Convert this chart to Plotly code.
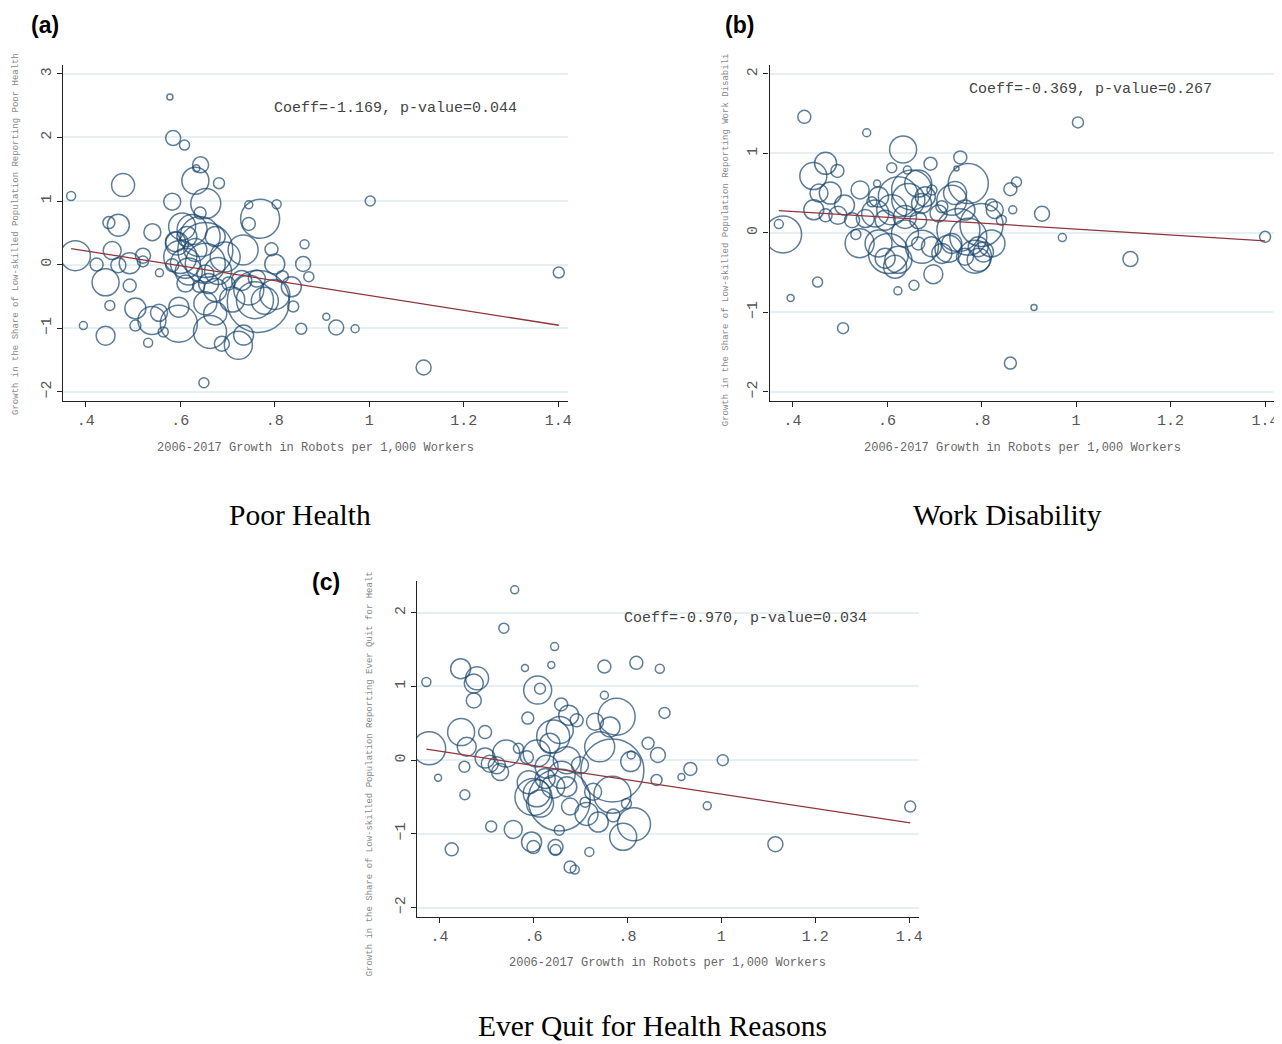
import plotly.graph_objects as go

# the page body keeps its default 8px margin, so the figure is drawn
# 8px smaller and every pixel placement below is shifted by that much
OFF = 8
W, H = 1282 - OFF, 1044 - OFF

NAVY = "#1a476f"
MAROON = "#90353b"
GRID = "#e6eff1"
AXIS = "#222222"
TICK_TXT = "#555555"
MONO = "Liberation Mono, Courier New, monospace"
SERIF = "Liberation Serif, Times New Roman, serif"
SANS = "Liberation Sans, Arial, sans-serif"

# ---- panel (a): Poor Health ----
a_x = [0.369, 0.378, 0.395, 0.423, 0.442, 0.442, 0.449, 0.451, 0.456, 0.469,
       0.469, 0.479, 0.493, 0.493, 0.505, 0.505, 0.521, 0.521, 0.532, 0.540,
       0.541, 0.555, 0.556, 0.564, 0.578, 0.583, 0.585, 0.597, 0.597, 0.604,
       0.609, 0.611, 0.614, 0.590, 0.632, 0.634, 0.642, 0.642, 0.643, 0.653,
       0.653, 0.654, 0.650, 0.653, 0.660, 0.663, 0.674, 0.674, 0.682, 0.688,
       0.723, 0.733, 0.734, 0.745, 0.745, 0.765, 0.758, 0.769, 0.793, 0.800,
       0.804, 0.816, 0.839, 0.856, 0.860, 0.863, 0.872, 0.909, 0.930, 0.970,
       1.002, 1.115, 1.401, 0.618, 0.632, 0.593, 0.695, 0.653, 0.674, 0.702,
       0.730, 0.762, 0.611, 0.583, 0.639, 0.779, 0.800, 0.835, 0.600, 0.625,
       0.680, 0.710, 0.745]
a_y = [1.08, 0.14, -0.96, 0.00, -0.28, -1.12, 0.66, -0.645, 0.22, 0.62,
       -0.01, 1.25, 0.02, -0.33, -0.69, -0.96, 0.14, 0.05, -1.23, -0.88,
       0.51, -0.76, -0.13, -1.06, 2.635, 0.99, 1.99, -0.93, -0.67, 0.60,
       1.88, 0.02, 0.44, 0.36, 1.32, 1.515, 0.81, 0.44, 1.57, 0.23,
       0.02, 0.96, -1.86, -0.61, -0.30, -1.06, 0.44, -0.77, 1.28, -1.245,
       -1.27, 0.23, -1.11, 0.94, 0.64, -0.58, -0.56, 0.72, 0.24, 0.01,
       0.95, -0.19, -0.66, -1.01, 0.01, 0.32, -0.19, -0.82, -0.99, -1.01,
       1.00, -1.62, -0.125, -0.11, 0.23, 0.33, 0.12, -0.14, -0.40, -0.30,
       -0.25, -0.22, -0.30, -0.01, -0.34, -0.57, -0.47, -0.35, 0.12, 0.55,
       -0.10, -0.55, -0.40]
a_w = [9, 30, 8, 13, 27, 19, 12, 10, 18, 22,
       15, 23, 21, 13, 21, 11, 15, 11, 9, 28,
       17, 17, 8, 10, 6, 17, 15, 37, 20, 27,
       10, 30, 20, 20, 27, 7, 12, 40, 16, 55,
       40, 30, 10, 23, 20, 33, 20, 23, 11, 15,
       28, 30, 20, 8, 13, 62, 37, 39, 13, 20,
       9, 12, 11, 11, 15, 9, 10, 7, 15, 8,
       10, 15, 11, 27, 23, 23, 30, 17, 23, 13,
       20, 17, 17, 13, 12, 27, 30, 20, 33, 30,
       27, 25, 30]

# ---- panel (b): Work Disability ----
b_x = [0.371, 0.380, 0.396, 0.425, 0.444, 0.445, 0.453, 0.456, 0.470, 0.470,
       0.480, 0.495, 0.496, 0.507, 0.510, 0.526, 0.534, 0.542, 0.543, 0.554,
       0.557, 0.568, 0.579, 0.582, 0.610, 0.610, 0.596, 0.603, 0.624, 0.624,
       0.596, 0.623, 0.634, 0.643, 0.638, 0.652, 0.666, 0.673, 0.666, 0.674,
       0.694, 0.695, 0.657, 0.692, 0.698, 0.716, 0.730, 0.737, 0.744, 0.751,
       0.747, 0.765, 0.755, 0.772, 0.786, 0.794, 0.804, 0.800, 0.821, 0.842,
       0.861, 0.866, 0.861, 0.874, 0.911, 0.928, 0.971, 1.004, 1.115, 1.400,
       0.575, 0.645, 0.681, 0.709, 0.765, 0.772, 0.828, 0.821, 0.793, 0.638,
       0.582, 0.617, 0.666, 0.716, 0.737]
b_y = [0.11, -0.02, -0.82, 1.46, 0.715, 0.29, -0.62, 0.50, 0.875, 0.22,
       0.50, 0.78, 0.22, -1.20, 0.35, 0.16, -0.02, -0.13, 0.54, 0.18,
       1.26, 0.39, 0.62, 0.45, 0.82, 0.29, 0.16, -0.26, 0.455, -0.34,
       -0.32, -0.73, 1.05, 0.79, 0.20, 0.54, 0.62, 0.37, 0.16, -0.175,
       -0.175, 0.54, -0.66, 0.87, -0.52, 0.33, -0.20, 0.41, 0.50, 0.035,
       0.81, -0.30, 0.95, 0.62, -0.30, -0.34, -0.24, 0.10, 0.35, 0.16,
       0.55, 0.29, -1.64, 0.64, -0.94, 0.24, -0.06, 1.39, -0.33, -0.05,
       0.245, 0.413, 0.455, 0.245, 0.287, -0.05, 0.287, -0.133, -0.175, -0.007,
       -0.133, -0.427, -0.133, -0.259, -0.133]
b_w = [9, 37, 7, 13, 27, 20, 10, 18, 22, 13,
       22, 13, 18, 11, 20, 15, 10, 29, 18, 18,
       8, 10, 7, 20, 10, 30, 20, 40, 40, 27,
       20, 8, 27, 8, 23, 40, 27, 20, 17, 33,
       20, 10, 10, 13, 19, 12, 27, 30, 23, 43,
       5, 17, 13, 40, 33, 23, 20, 43, 12, 10,
       13, 8, 12, 10, 6, 15, 8, 11, 15, 11,
       27, 33, 20, 17, 20, 37, 17, 27, 20, 27,
       27, 23, 13, 20, 20]

# ---- panel (c): Ever Quit for Health Reasons ----
c_x = [0.372, 0.378, 0.397, 0.426, 0.445, 0.446, 0.453, 0.454, 0.458, 0.473,
       0.480, 0.473, 0.497, 0.497, 0.510, 0.522, 0.529, 0.507, 0.537, 0.542,
       0.557, 0.568, 0.586, 0.560, 0.582, 0.588, 0.596, 0.600, 0.600, 0.607,
       0.614, 0.607, 0.609, 0.614, 0.628, 0.635, 0.638, 0.642, 0.656, 0.642,
       0.645, 0.647, 0.647, 0.655, 0.655, 0.659, 0.671, 0.671, 0.678, 0.675,
       0.678, 0.688, 0.692, 0.699, 0.710, 0.713, 0.719, 0.731, 0.738, 0.741,
       0.751, 0.751, 0.763, 0.768, 0.768, 0.777, 0.770, 0.798, 0.791, 0.814,
       0.819, 0.808, 0.807, 0.844, 0.862, 0.865, 0.869, 0.879, 0.915, 0.934,
       0.970, 1.003, 1.115, 1.402, 0.727, 0.590, 0.625, 0.660]
c_y = [1.06, 0.16, -0.24, -1.21, 1.24, 0.38, -0.09, -0.47, 0.18, 1.04,
       1.11, 0.81, 0.38, 0.03, -0.90, -0.07, -0.16, -0.05, 1.79, 0.09,
       -0.94, 0.16, 0.04, 2.31, 1.25, 0.57, -1.11, -1.18, -0.50, -0.45,
       -0.59, 0.09, 0.95, 0.97, -0.09, 0.23, 1.29, 0.32, 0.41, -0.36,
       1.54, -1.18, -1.22, -0.95, -0.54, 0.755, 0.00, -0.36, -0.63, 0.61,
       -1.45, -1.485, 0.54, -0.07, -0.57, -0.73, -1.245, 0.52, -0.84, 0.18,
       1.27, 0.88, 0.45, -0.14, -0.47, 0.59, -0.75, -0.59, -1.04, -0.87,
       1.32, 0.07, -0.02, 0.23, -0.27, 0.07, 1.24, 0.64, -0.23, -0.12,
       -0.62, 0.00, -1.14, -0.63, -0.43, -0.30, -0.25, -0.20]
c_w = [9, 33, 7, 13, 20, 27, 11, 10, 19, 19,
       23, 15, 13, 20, 11, 17, 17, 17, 10, 27,
       18, 10, 13, 8, 7, 12, 20, 13, 37, 27,
       27, 27, 28, 11, 23, 20, 7, 33, 27, 23,
       8, 15, 11, 10, 62, 13, 27, 20, 17, 20,
       12, 9, 13, 17, 10, 23, 9, 17, 20, 30,
       13, 8, 20, 63, 37, 37, 13, 10, 27, 33,
       13, 8, 20, 12, 11, 15, 9, 11, 7, 13,
       8, 11, 15, 11, 17, 23, 20, 27]

slopes = [-1.169, -0.369, -0.970]
intercepts = [0.6825, 0.4165, 0.509]
p_values = [0.044, 0.267, 0.034]
titles = ["Poor Health", "Work Disability", "Ever Quit for Health Reasons"]
panel_tags = ["(a)", "(b)", "(c)"]
ytitles = [
    "Growth in the Share of Low-skilled Population Reporting Poor Health",
    "Growth in the Share of Low-skilled Population Reporting Work Disabili",
    "Growth in the Share of Low-skilled Population Reporting Ever Quit for Healt",
]
x_title = "2006-2017 Growth in Robots per 1,000 Workers"
x_ticks = [0.4, 0.6, 0.8, 1.0, 1.2, 1.4]
x_ticktext = [".4", ".6", ".8", "1", "1.2", "1.4"]
y_ticks = [[-2, -1, 0, 1, 2, 3], [-2, -1, 0, 1, 2], [-2, -1, 0, 1, 2]]
y_ranges = [[-2.147, 3.14], [-2.117, 2.113], [-2.128, 2.43]]
x_range = [0.3515, 1.421]

# plot boxes in page pixels: left, right, top, bottom
boxes = [(63, 570, 65, 401), (772, 1279, 65, 401), (418, 922, 581, 917)]
# text placements in page pixels
tag_pos = [(45, 25), (742, 25), (327, 582)]
title_pos = [(301, 515), (1011, 515), (655, 1026)]
coeff_pos = [(273, 108), (970, 90), (624, 618)]
xtitle_pos = [(316, 448), (1026, 448), (670, 963)]
ytitle_pos = [(16, 417), (728, 428), (371, 978)]

series = [(a_x, a_y, a_w), (b_x, b_y, b_w), (c_x, c_y, c_w)]


def fx(px):
    return (px - OFF) / W


def fy(py):
    return 1 - (py - OFF) / H


def note(text, pos, font, **kw):
    d = dict(text=text, x=fx(pos[0]), y=fy(pos[1]), xref="paper", yref="paper",
             showarrow=False, xanchor="center", yanchor="middle", font=font)
    d.update(kw)
    return d


fig = go.Figure()
annotations = []

for i, (xs, ys, ws) in enumerate(series):
    n = "" if i == 0 else str(i + 1)
    xa, ya = "x" + n, "y" + n

    fig.add_trace(go.Scatter(
        x=xs, y=ys, xaxis=xa, yaxis=ya,
        mode="markers",
        marker=dict(size=ws, color="rgba(0,0,0,0)",
                    line=dict(color=NAVY, width=1.5)),
        showlegend=False, hoverinfo="skip",
    ))
    x0, x1 = min(xs), max(xs)
    fig.add_trace(go.Scatter(
        x=[x0, x1],
        y=[intercepts[i] + slopes[i] * x0, intercepts[i] + slopes[i] * x1],
        xaxis=xa, yaxis=ya, mode="lines",
        line=dict(color=MAROON, width=1.3),
        showlegend=False, hoverinfo="skip",
    ))

    l, r, t, b = boxes[i]
    axis_common = dict(
        showline=True, linecolor=AXIS, linewidth=1.3,
        ticks="outside", ticklen=5, tickwidth=1.3, tickcolor=AXIS,
        tickfont=dict(family=MONO, size=15, color=TICK_TXT),
        zeroline=False,
    )
    fig.layout["xaxis" + n] = dict(
        domain=[fx(l), fx(r)], anchor=ya, range=x_range,
        tickvals=x_ticks, ticktext=x_ticktext, showgrid=False,
        ticklabeloverflow="allow",
        **axis_common,
    )
    fig.layout["yaxis" + n] = dict(
        domain=[fy(b), fy(t)], anchor=xa, range=y_ranges[i],
        tickvals=y_ticks[i], tickangle=-90,
        showgrid=True, gridcolor=GRID, gridwidth=1.5,
        **axis_common,
    )

    annotations += [
        note(f"<b>{panel_tags[i]}</b>", tag_pos[i],
             dict(family=SANS, size=23, color="black")),
        note(titles[i], title_pos[i],
             dict(family=SERIF, size=29.5, color="black")),
        note(f"Coeff={slopes[i]:.3f}, p-value={p_values[i]:.3f}", coeff_pos[i],
             dict(family=MONO, size=15, color="#444444"), xanchor="left"),
        note(x_title, xtitle_pos[i],
             dict(family=MONO, size=12, color="#666666")),
        note(ytitles[i], ytitle_pos[i],
             dict(family=MONO, size=9, color="#888888"),
             yanchor="bottom", textangle=-90),
    ]

fig.update_layout(
    width=W, height=H,
    margin=dict(l=0, r=0, t=0, b=0),
    paper_bgcolor="white", plot_bgcolor="white",
    annotations=annotations,
)

fig.write_html("out.html")
